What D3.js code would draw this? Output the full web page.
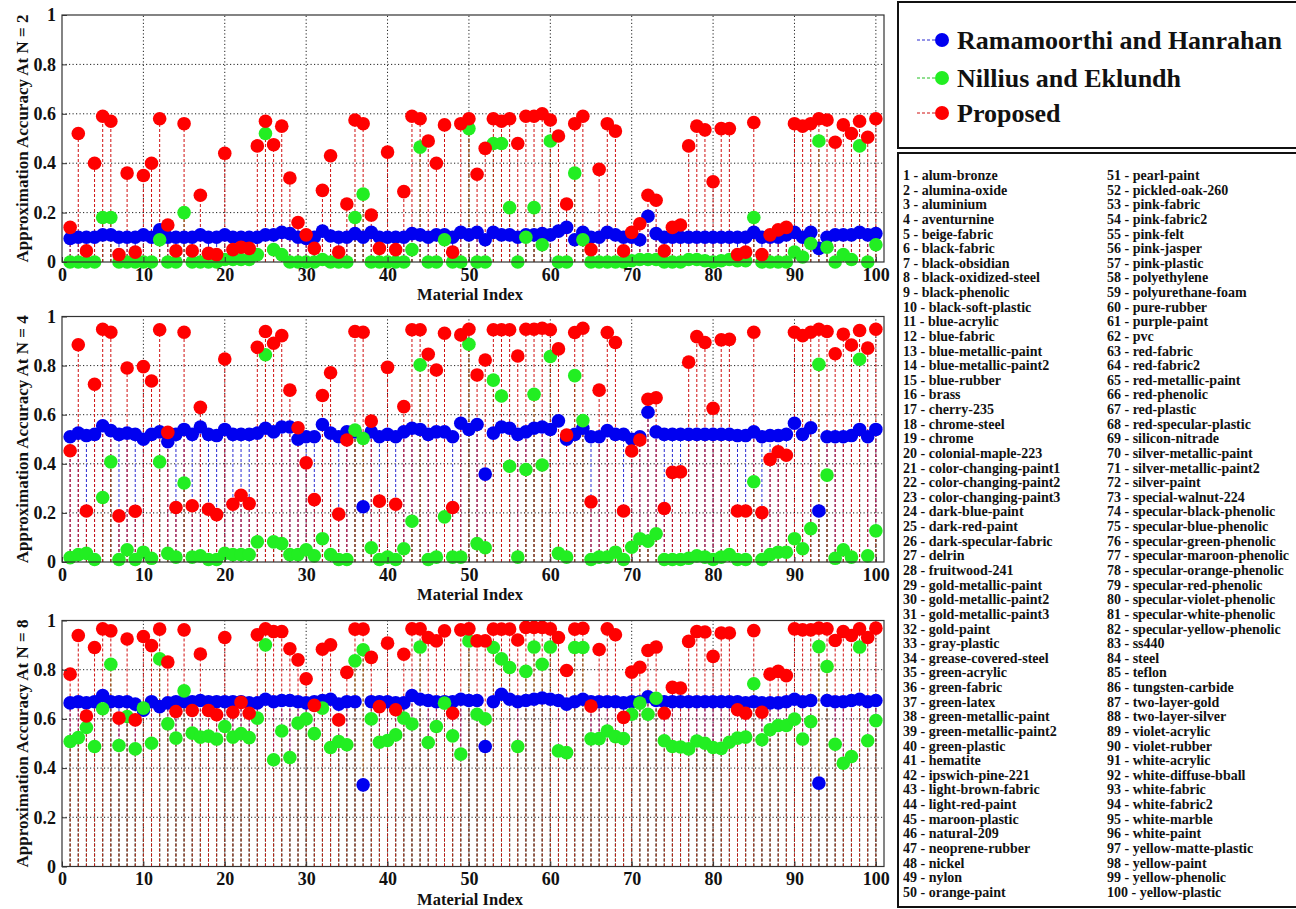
<!DOCTYPE html>
<html><head><meta charset="utf-8">
<script src="https://cdn.jsdelivr.net/npm/d3@7"></script>
<style>
body{margin:0;background:#fff;}
svg{display:block;}
text{font-family:"Liberation Serif","Times New Roman",serif;font-weight:bold;fill:#111;}
</style>
</head><body>
<svg id="chart" width="1296" height="909"></svg>
<script>
const seriesNames = ["Ramamoorthi and Hanrahan", "Nillius and Eklundh", "Proposed"];
const seriesColors = ["#0000f0", "#22ee22", "#ff0000"];
const stemColors = ["#2a2ad0", "#22c022", "#d01010"];
const xTicks = [0,10,20,30,40,50,60,70,80,90,100];
const yTicks = [0,0.2,0.4,0.6,0.8,1];
const yTickLabels = ["0","0.2","0.4","0.6","0.8","1"];
const xLabel = "Material Index";
const panelLabels = ["Approximation Accuracy At N = 2","Approximation Accuracy At N = 4","Approximation Accuracy At N = 8"];
const materialIndex = d3.range(1, 101);
const materialNames = ["alum-bronze","alumina-oxide","aluminium","aventurnine","beige-fabric","black-fabric","black-obsidian","black-oxidized-steel","black-phenolic","black-soft-plastic",
"blue-acrylic","blue-fabric","blue-metallic-paint","blue-metallic-paint2","blue-rubber","brass","cherry-235","chrome-steel","chrome","colonial-maple-223",
"color-changing-paint1","color-changing-paint2","color-changing-paint3","dark-blue-paint","dark-red-paint","dark-specular-fabric","delrin","fruitwood-241","gold-metallic-paint","gold-metallic-paint2",
"gold-metallic-paint3","gold-paint","gray-plastic","grease-covered-steel","green-acrylic","green-fabric","green-latex","green-metallic-paint","green-metallic-paint2","green-plastic",
"hematite","ipswich-pine-221","light-brown-fabric","light-red-paint","maroon-plastic","natural-209","neoprene-rubber","nickel","nylon","orange-paint",
"pearl-paint","pickled-oak-260","pink-fabric","pink-fabric2","pink-felt","pink-jasper","pink-plastic","polyethylene","polyurethane-foam","pure-rubber",
"purple-paint","pvc","red-fabric","red-fabric2","red-metallic-paint","red-phenolic","red-plastic","red-specular-plastic","silicon-nitrade","silver-metallic-paint",
"silver-metallic-paint2","silver-paint","special-walnut-224","specular-black-phenolic","specular-blue-phenolic","specular-green-phenolic","specular-maroon-phenolic","specular-orange-phenolic","specular-red-phenolic","specular-violet-phenolic",
"specular-white-phenolic","specular-yellow-phenolic","ss440","steel","teflon","tungsten-carbide","two-layer-gold","two-layer-silver","violet-acrylic","violet-rubber",
"white-acrylic","white-diffuse-bball","white-fabric","white-fabric2","white-marble","white-paint","yellow-matte-plastic","yellow-paint","yellow-phenolic","yellow-plastic"];

// N = 2
const rhN2 = [0.095,0.10,0.10,0.10,0.11,0.11,0.10,0.10,0.10,0.11, 0.10,0.13,0.10,0.10,0.10,0.10,0.11,0.10,0.10,0.11,
0.10,0.10,0.10,0.10,0.11,0.11,0.12,0.115,0.10,0.095, 0.10,0.125,0.105,0.10,0.10,0.115,0.10,0.12,0.10,0.10,
0.10,0.10,0.115,0.11,0.10,0.11,0.11,0.10,0.12,0.11, 0.12,0.09,0.12,0.11,0.11,0.10,0.11,0.11,0.115,0.11,
0.125,0.14,0.09,0.12,0.10,0.10,0.12,0.11,0.10,0.10, 0.09,0.185,0.115,0.10,0.10,0.10,0.10,0.10,0.10,0.10,
0.10,0.10,0.10,0.10,0.12,0.10,0.10,0.10,0.11,0.12, 0.10,0.12,0.055,0.10,0.11,0.11,0.11,0.12,0.11,0.115];
const neN2 = [0,0,0,0,0.18,0.18,0,0,0,0, 0,0.09,0,0,0.20,0,0,0,0,0.01,
0.01,0.01,0.01,0.03,0.52,0.05,0.03,0,0,0, 0,0.01,0,0,0,0.18,0.275,0,0,0,
0,0,0.05,0.465,0,0,0.09,0,0,0.54, 0,0,0.48,0.48,0.22,0,0.10,0.22,0.07,0.49,
0,0,0.36,0.09,0,0,0,0,0,0.005, 0.01,0.01,0.01,0,0,0,0.01,0.01,0.005,0,
0.005,0.01,0.005,0.005,0.18,0,0,0,0,0.04, 0.02,0.075,0.49,0.06,0,0.03,0.01,0.47,0,0.07];
const prN2 = [0.14,0.52,0.045,0.40,0.59,0.57,0.03,0.36,0.04,0.35, 0.40,0.58,0.15,0.045,0.56,0.045,0.27,0.035,0.03,0.44,
0.05,0.06,0.055,0.47,0.57,0.475,0.55,0.34,0.16,0.11, 0.055,0.29,0.43,0.04,0.235,0.575,0.56,0.19,0.055,0.445,
0.05,0.285,0.59,0.58,0.49,0.40,0.555,0.04,0.56,0.58, 0.355,0.46,0.58,0.57,0.58,0.48,0.59,0.59,0.60,0.575,
0.51,0.235,0.56,0.59,0.05,0.375,0.56,0.53,0.045,0.12, 0.155,0.27,0.25,0.045,0.14,0.15,0.47,0.55,0.535,0.325,
0.54,0.54,0.03,0.04,0.565,0.03,0.11,0.13,0.14,0.56, 0.55,0.56,0.58,0.575,0.485,0.555,0.52,0.57,0.505,0.58];

// N = 4
const rhN4 = [0.51,0.525,0.515,0.52,0.555,0.535,0.52,0.525,0.52,0.50, 0.52,0.53,0.49,0.52,0.54,0.52,0.55,0.52,0.515,0.54,
0.52,0.52,0.52,0.525,0.545,0.53,0.55,0.55,0.50,0.51, 0.51,0.56,0.525,0.51,0.53,0.53,0.225,0.53,0.51,0.52,
0.51,0.53,0.545,0.54,0.52,0.53,0.53,0.51,0.565,0.54, 0.56,0.358,0.525,0.55,0.545,0.52,0.53,0.545,0.55,0.54,
0.575,0.50,0.52,0.545,0.51,0.51,0.535,0.52,0.52,0.50, 0.51,0.61,0.53,0.52,0.52,0.52,0.52,0.52,0.52,0.52,
0.52,0.52,0.515,0.515,0.53,0.51,0.515,0.515,0.52,0.565, 0.52,0.547,0.208,0.51,0.51,0.51,0.515,0.54,0.51,0.54];
const neN4 = [0.018,0.03,0.035,0.01,0.263,0.408,0.01,0.05,0.01,0.04, 0.015,0.408,0.035,0.02,0.322,0.02,0.025,0.01,0.01,0.035,
0.03,0.03,0.03,0.082,0.844,0.082,0.075,0.03,0.03,0.05, 0.025,0.095,0.03,0.01,0.01,0.537,0.503,0.058,0.01,0.02,
0.01,0.054,0.166,0.803,0.01,0.02,0.184,0.02,0.02,0.887, 0.075,0.058,0.741,0.676,0.39,0.02,0.377,0.683,0.395,0.837,
0.035,0.02,0.759,0.576,0.01,0.02,0.02,0.04,0.01,0.06, 0.095,0.085,0.115,0.01,0.01,0.01,0.015,0.025,0.02,0.01,
0.02,0.03,0.01,0.01,0.327,0.01,0.03,0.04,0.04,0.095, 0.054,0.136,0.805,0.354,0.015,0.05,0.02,0.826,0.025,0.127];
const prN4 = [0.453,0.885,0.208,0.724,0.948,0.936,0.188,0.79,0.207,0.796, 0.737,0.946,0.528,0.222,0.936,0.229,0.63,0.215,0.193,0.827,
0.235,0.272,0.238,0.875,0.939,0.891,0.922,0.70,0.547,0.404, 0.254,0.678,0.771,0.195,0.497,0.939,0.936,0.574,0.248,0.793,
0.235,0.633,0.946,0.946,0.846,0.782,0.932,0.222,0.925,0.948, 0.762,0.823,0.946,0.946,0.946,0.839,0.948,0.948,0.952,0.946,
0.868,0.517,0.935,0.952,0.245,0.70,0.935,0.894,0.208,0.452, 0.497,0.663,0.669,0.218,0.365,0.367,0.814,0.918,0.894,0.626,
0.905,0.907,0.208,0.208,0.936,0.201,0.418,0.449,0.435,0.936, 0.922,0.936,0.948,0.939,0.848,0.928,0.884,0.943,0.871,0.948];

// N = 8
const rhN8 = [0.665,0.67,0.665,0.67,0.695,0.67,0.67,0.67,0.66,0.635, 0.67,0.65,0.665,0.67,0.67,0.67,0.675,0.67,0.67,0.67,
0.67,0.67,0.665,0.665,0.68,0.67,0.675,0.675,0.67,0.665, 0.67,0.675,0.68,0.66,0.67,0.67,0.332,0.67,0.67,0.67,
0.665,0.665,0.695,0.68,0.675,0.67,0.67,0.67,0.68,0.675, 0.675,0.488,0.67,0.70,0.68,0.67,0.675,0.68,0.685,0.68,
0.675,0.66,0.67,0.68,0.67,0.67,0.67,0.67,0.665,0.67, 0.67,0.69,0.675,0.67,0.67,0.67,0.67,0.67,0.67,0.67,
0.67,0.67,0.67,0.665,0.67,0.665,0.665,0.665,0.67,0.68, 0.67,0.675,0.339,0.675,0.67,0.67,0.675,0.68,0.67,0.675];
const neN8 = [0.508,0.524,0.565,0.488,0.641,0.822,0.492,0.61,0.478,0.644, 0.501,0.844,0.58,0.522,0.714,0.542,0.526,0.53,0.518,0.569,
0.526,0.54,0.524,0.603,0.901,0.434,0.551,0.443,0.583,0.60, 0.54,0.644,0.484,0.508,0.495,0.836,0.881,0.60,0.505,0.512,
0.535,0.603,0.579,0.892,0.504,0.569,0.664,0.531,0.457,0.917, 0.619,0.60,0.89,0.844,0.809,0.488,0.793,0.892,0.822,0.892,
0.47,0.463,0.89,0.89,0.519,0.52,0.551,0.528,0.52,0.619, 0.664,0.619,0.684,0.511,0.488,0.486,0.478,0.51,0.501,0.484,
0.48,0.505,0.522,0.526,0.743,0.515,0.556,0.573,0.573,0.599, 0.518,0.589,0.894,0.813,0.497,0.42,0.447,0.892,0.511,0.593];
const prN8 = [0.782,0.939,0.612,0.89,0.966,0.958,0.603,0.925,0.596,0.935, 0.898,0.965,0.831,0.63,0.962,0.634,0.864,0.634,0.617,0.931,
0.627,0.667,0.623,0.942,0.966,0.955,0.955,0.885,0.84,0.763, 0.655,0.883,0.901,0.596,0.789,0.965,0.965,0.85,0.65,0.908,
0.637,0.863,0.966,0.966,0.931,0.917,0.958,0.623,0.962,0.966, 0.917,0.917,0.965,0.965,0.965,0.921,0.972,0.972,0.972,0.966,
0.931,0.797,0.965,0.968,0.652,0.882,0.966,0.942,0.606,0.79, 0.81,0.878,0.892,0.623,0.728,0.725,0.915,0.955,0.953,0.854,
0.949,0.949,0.637,0.623,0.959,0.627,0.782,0.793,0.776,0.966, 0.962,0.962,0.969,0.966,0.919,0.955,0.939,0.966,0.931,0.969];

const panelsData = [[rhN2, neN2, prN2],[rhN4, neN4, prN4],[rhN8, neN8, prN8]];
const panelTops = [15, 316.5, 620.5];
const panelBottoms = [262, 562, 866.5];

const svg = d3.select("#chart");
const x = d3.scaleLinear().domain([0, 101]).range([62, 884]);

panelsData.forEach((series, p) => {
  const y = d3.scaleLinear().domain([0, 1]).range([panelBottoms[p], panelTops[p]]);
  const g = svg.append("g");
  // grid
  g.selectAll(".vg").data(xTicks.filter(d => d > 0)).join("line")
    .attr("x1", d => x(d)).attr("x2", d => x(d)).attr("y1", y(0)).attr("y2", y(1))
    .attr("stroke", "#222").attr("stroke-width", 1).attr("stroke-dasharray", "1.2,2.3");
  g.selectAll(".hg").data(yTicks.filter(d => d > 0 && d < 1)).join("line")
    .attr("y1", d => y(d)).attr("y2", d => y(d)).attr("x1", x(0)).attr("x2", x(101))
    .attr("stroke", "#222").attr("stroke-width", 1).attr("stroke-dasharray", "1.2,2.3");
  // stems
  series.forEach((vals, s) => {
    g.append("g").selectAll("line").data(vals).join("line")
      .attr("x1", (d, i) => x(materialIndex[i])).attr("x2", (d, i) => x(materialIndex[i]))
      .attr("y1", y(0)).attr("y2", d => y(d))
      .attr("stroke", stemColors[s]).attr("stroke-width", 1).attr("stroke-dasharray", "3,2");
  });
  // markers
  series.forEach((vals, s) => {
    g.append("g").selectAll("circle").data(vals).join("circle")
      .attr("cx", (d, i) => x(materialIndex[i])).attr("cy", d => y(d)).attr("r", 6.8)
      .attr("fill", seriesColors[s]);
  });
  // box
  g.append("rect").attr("x", x(0)).attr("y", y(1)).attr("width", x(101) - x(0)).attr("height", y(0) - y(1))
    .attr("fill", "none").attr("stroke", "#333").attr("stroke-width", 1.2);
  // axes
  const ya = g.append("g").attr("transform", `translate(${x(0)},0)`)
    .call(d3.axisLeft(y).tickValues(yTicks).tickFormat((d, i) => yTickLabels[i]).tickSize(-5).tickPadding(6));
  ya.select(".domain").remove();
  ya.selectAll("text").style("font-size", "18px").attr("fill", "#111");
  const xa = g.append("g").attr("transform", `translate(0,${y(0)})`)
    .call(d3.axisBottom(x).tickValues(xTicks).tickFormat(d3.format("d")).tickSize(-5).tickPadding(6));
  xa.select(".domain").remove();
  xa.selectAll("text").style("font-size", "18px").attr("fill", "#111");
  xa.selectAll("line").attr("stroke", "#333");
  ya.selectAll("line").attr("stroke", "#333");
  // labels
  g.append("text").attr("x", 470).attr("y", y(0) + 38).attr("text-anchor", "middle")
    .style("font-size", "16.5px").text(xLabel);
  g.append("text").attr("transform", `translate(28,${(y(0) + y(1)) / 2}) rotate(-90)`)
    .attr("text-anchor", "middle").style("font-size", "17px").text(panelLabels[p]);
});

// Legend box
const lg = svg.append("g");
lg.append("rect").attr("x", 898).attr("y", 2).attr("width", 420).attr("height", 146)
  .attr("fill", "#fff").attr("stroke", "#111").attr("stroke-width", 2);
const legendRows = [40, 78, 113];
seriesNames.forEach((name, s) => {
  const cy = legendRows[s];
  lg.append("line").attr("x1", 917).attr("x2", 936).attr("y1", cy).attr("y2", cy)
    .attr("stroke", stemColors[s]).attr("stroke-width", 1).attr("stroke-dasharray", "3,2");
  lg.append("circle").attr("cx", 942).attr("cy", cy).attr("r", 7).attr("fill", seriesColors[s]);
  lg.append("text").attr("x", 957).attr("y", cy + 9).style("font-size", "26px").text(name);
});

// Material list box
const mg = svg.append("g");
mg.append("rect").attr("x", 898).attr("y", 153).attr("width", 420).attr("height", 754)
  .attr("fill", "#fff").attr("stroke", "#111").attr("stroke-width", 2);
mg.selectAll("text").data(materialNames).join("text")
  .attr("x", (d, i) => i < 50 ? 903 : 1107)
  .attr("y", (d, i) => 180 + (i % 50) * 14.63)
  .style("font-size", "14px")
  .text((d, i) => `${materialIndex[i]} - ${d}`);
</script>
</body></html>
